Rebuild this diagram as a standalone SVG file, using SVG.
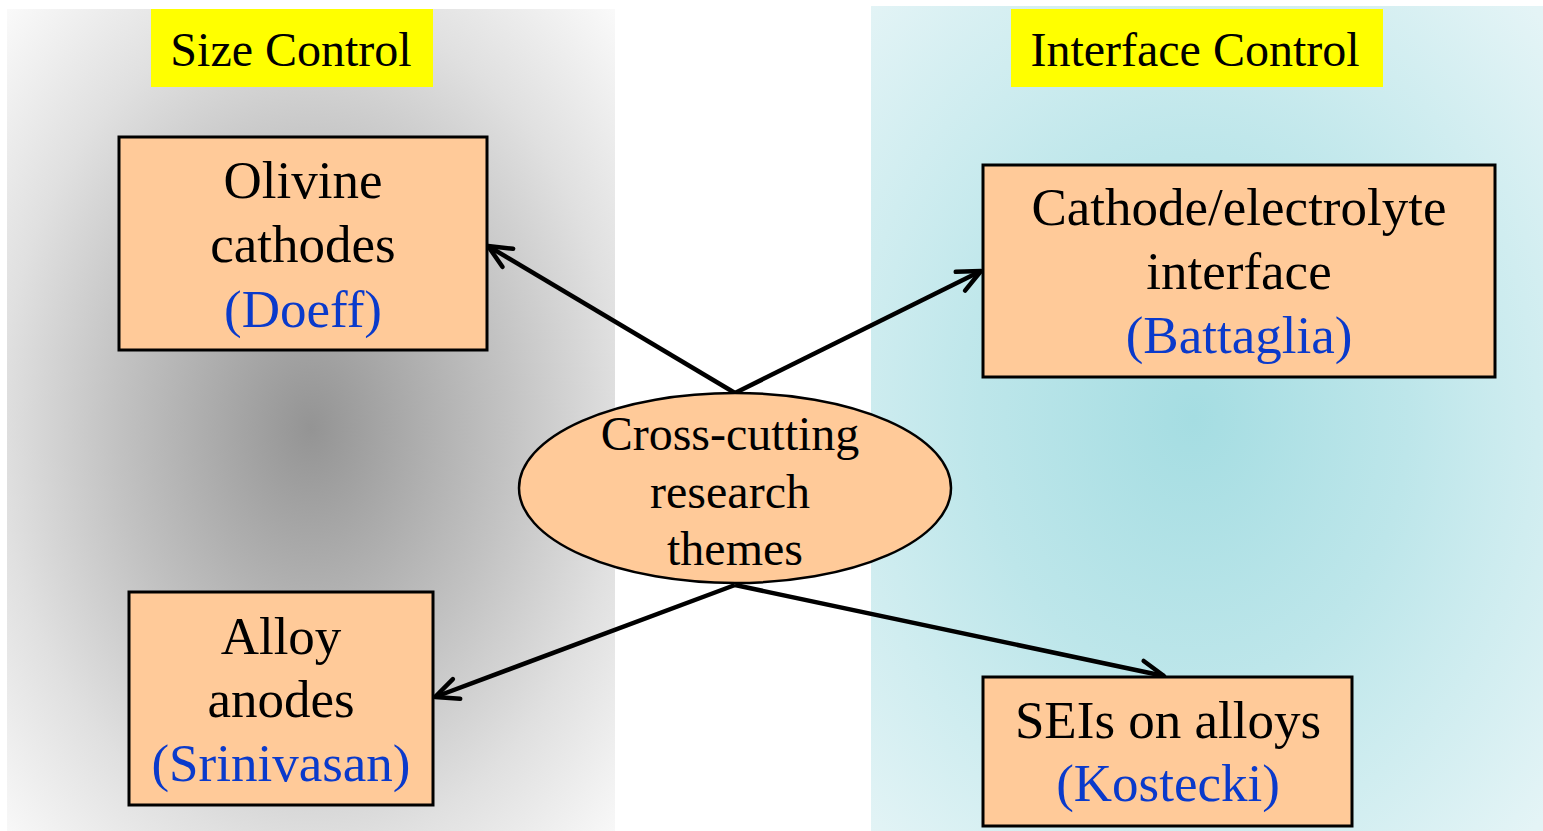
<svg xmlns="http://www.w3.org/2000/svg" width="1543" height="831" viewBox="0 0 1543 831">
<defs>
<radialGradient id="gGray" cx="0.5" cy="0.51" r="0.71">
<stop offset="0" stop-color="#949494"/>
<stop offset="0.45" stop-color="#c2c2c2"/>
<stop offset="0.72" stop-color="#e0e0e0"/>
<stop offset="1" stop-color="#f9f9f9"/>
</radialGradient>
<radialGradient id="gCyan" cx="0.48" cy="0.5" r="0.71">
<stop offset="0" stop-color="#a5dde2"/>
<stop offset="0.45" stop-color="#bde6ea"/>
<stop offset="0.72" stop-color="#d0edf0"/>
<stop offset="1" stop-color="#e4f4f6"/>
</radialGradient>
<marker id="arr" markerUnits="userSpaceOnUse" viewBox="-30 -15 36 30" refX="0" refY="0" markerWidth="36" markerHeight="30" orient="auto" overflow="visible">
<path d="M-23,-10.5 L0,0 L-23,10.5" fill="none" stroke="#000" stroke-width="4.5" stroke-linecap="round" stroke-linejoin="round"/>
</marker>
<style>
.box{fill:#ffca99;stroke:#000;stroke-width:3}
.t{font-family:"Liberation Serif","Times New Roman",serif;font-size:53px;fill:#000;text-anchor:middle}
.b{fill:#0a3acb}
.tt{font-family:"Liberation Serif","Times New Roman",serif;font-size:48px;fill:#000;text-anchor:middle}
.conn{stroke:#000;stroke-width:4.5;fill:none;marker-end:url(#arr)}
</style>
</defs>
<rect width="1543" height="831" fill="#fff"/>
<g id="panel-size">
<rect x="7" y="9" width="608" height="822" fill="url(#gGray)"/>
<rect x="151" y="9" width="282" height="78" fill="#ffff00"/>
<text class="tt" x="291" y="66">Size Control</text>
</g>
<g id="panel-interface">
<rect x="871" y="6" width="672" height="825" fill="url(#gCyan)"/>
<rect x="1011" y="9" width="372" height="78" fill="#ffff00"/>
<text class="tt" x="1195" y="66">Interface Control</text>
</g>
<g id="connectors">
<line class="conn" x1="735" y1="393" x2="488" y2="246"/>
<line class="conn" x1="735" y1="393" x2="981" y2="271"/>
<line class="conn" x1="735" y1="585" x2="435" y2="697"/>
<line class="conn" x1="735" y1="585" x2="1164" y2="676"/>
</g>
<g id="node-olivine">
<rect class="box" x="119" y="137" width="368" height="213"/>
<text class="t" x="303" y="198">Olivine</text>
<text class="t" x="303" y="262">cathodes</text>
<text class="t b" x="303" y="327">(Doeff)</text>
</g>
<g id="node-cathode">
<rect class="box" x="983" y="165" width="512" height="212"/>
<text class="t" x="1239" y="225">Cathode/electrolyte</text>
<text class="t" x="1239" y="289">interface</text>
<text class="t b" x="1239" y="353">(Battaglia)</text>
</g>
<g id="node-alloy">
<rect class="box" x="129" y="592" width="304" height="213"/>
<text class="t" x="281" y="654">Alloy</text>
<text class="t" x="281" y="717">anodes</text>
<text class="t b" x="281" y="781">(Srinivasan)</text>
</g>
<g id="node-sei">
<rect class="box" x="983" y="677" width="369" height="149"/>
<text class="t" x="1168" y="738">SEIs on alloys</text>
<text class="t b" x="1168" y="801">(Kostecki)</text>
</g>
<g id="node-center">
<ellipse cx="735" cy="488" rx="216" ry="95" fill="#ffca99" stroke="#000" stroke-width="2.5"/>
<text class="tt" x="730" y="450">Cross-cutting</text>
<text class="tt" x="730" y="508">research</text>
<text class="tt" x="735" y="565">themes</text>
</g>
</svg>
